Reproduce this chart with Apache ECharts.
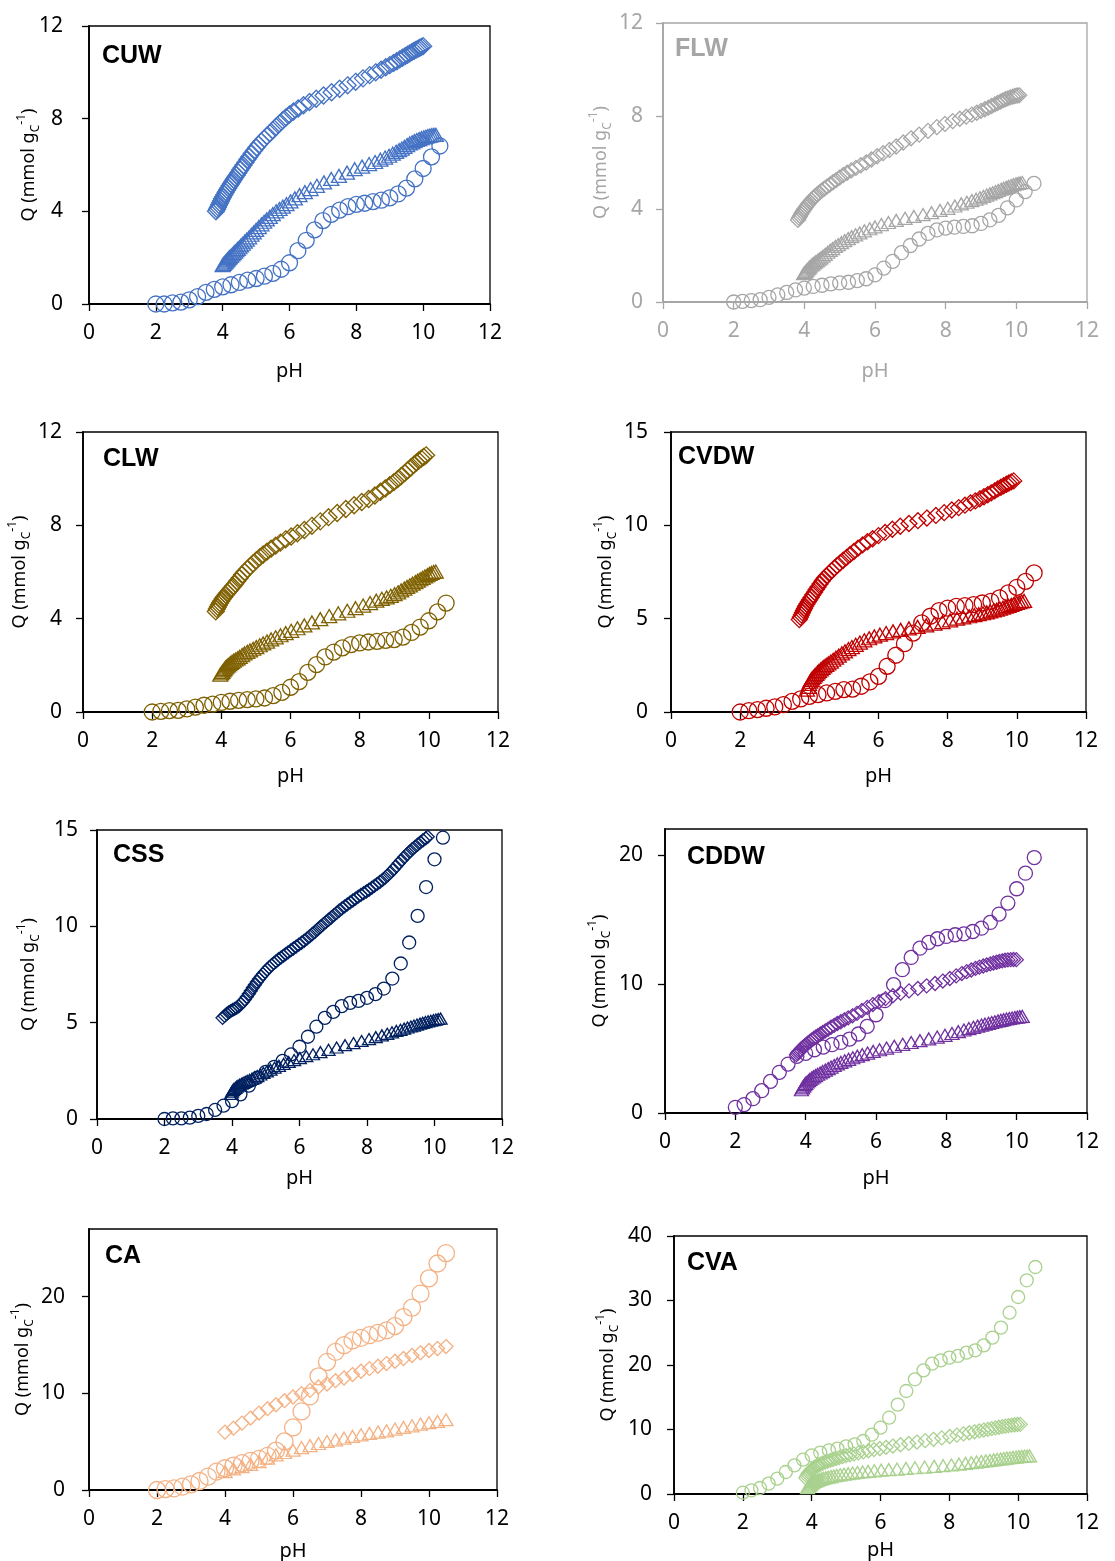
<!DOCTYPE html>
<html><head><meta charset="utf-8">
<script src="https://cdn.jsdelivr.net/npm/echarts@6/dist/echarts.min.js"></script>
<style>html,body{margin:0;padding:0;background:#fff}#c{width:1115px;height:1561px}</style>
</head><body><div id="c"></div>
<script>
// ---------- DATA ----------
const X_TICKS = [0,2,4,6,8,10,12];
const CIRC_PH = [2,2.25,2.5,2.75,3,3.25,3.5,3.75,4,4.25,4.5,4.75,5,5.25,5.5,5.75,6,6.25,6.5,6.75,7,7.25,7.5,7.75,8,8.25,8.5,8.75,9,9.25,9.5,9.75,10,10.25,10.5];

// CUW
const CUW_CIRC_Q = [0.0,0.0,0.05,0.08,0.18,0.32,0.5,0.63,0.74,0.83,0.93,1.03,1.1,1.2,1.32,1.5,1.78,2.3,2.75,3.2,3.6,3.87,4.05,4.2,4.3,4.35,4.42,4.48,4.58,4.75,5.0,5.4,5.85,6.35,6.82];
const CUW_TRI = [[4.0,1.68],[4.03,1.73],[4.06,1.78],[4.09,1.83],[4.12,1.88],[4.15,1.93],[4.18,1.98],[4.21,2.02],[4.25,2.08],[4.29,2.14],[4.33,2.2],[4.37,2.26],[4.41,2.32],[4.45,2.38],[4.5,2.45],[4.55,2.53],[4.6,2.6],[4.66,2.69],[4.72,2.78],[4.79,2.88],[4.86,2.99],[4.93,3.09],[5.0,3.2],[5.08,3.32],[5.16,3.44],[5.24,3.55],[5.32,3.65],[5.41,3.76],[5.5,3.88],[5.6,4.0],[5.7,4.1],[5.8,4.2],[5.91,4.31],[6.03,4.43],[6.16,4.56],[6.3,4.7],[6.46,4.83],[6.63,4.96],[6.82,5.1],[7.03,5.25],[7.25,5.4],[7.48,5.53],[7.72,5.67],[7.95,5.82],[8.17,5.93],[8.38,6.04],[8.56,6.13],[8.72,6.23],[8.86,6.32],[8.98,6.4],[9.09,6.49],[9.19,6.57],[9.28,6.64],[9.36,6.71],[9.44,6.78],[9.52,6.86],[9.6,6.93],[9.67,6.98],[9.74,7.03],[9.81,7.08],[9.88,7.12],[9.95,7.16],[10.02,7.19],[10.08,7.22],[10.14,7.25],[10.2,7.27],[10.26,7.29],[10.32,7.3],[10.38,7.3]];
const CUW_DIA = [[3.8,4.0],[3.83,4.09],[3.86,4.18],[3.89,4.27],[3.92,4.36],[3.95,4.45],[3.98,4.54],[4.01,4.62],[4.05,4.72],[4.09,4.82],[4.13,4.92],[4.17,5.01],[4.21,5.1],[4.25,5.19],[4.29,5.28],[4.33,5.37],[4.37,5.46],[4.42,5.56],[4.47,5.67],[4.52,5.78],[4.57,5.88],[4.62,5.99],[4.68,6.11],[4.74,6.24],[4.8,6.36],[4.87,6.5],[4.94,6.63],[5.01,6.76],[5.08,6.88],[5.16,7.01],[5.24,7.13],[5.32,7.25],[5.41,7.37],[5.5,7.5],[5.6,7.65],[5.7,7.79],[5.8,7.93],[5.9,8.06],[6.0,8.18],[6.12,8.31],[6.26,8.44],[6.42,8.58],[6.6,8.72],[6.8,8.86],[7.02,9.0],[7.26,9.14],[7.5,9.29],[7.74,9.44],[7.98,9.59],[8.2,9.74],[8.4,9.88],[8.58,10.0],[8.74,10.11],[8.88,10.22],[9.0,10.31],[9.11,10.4],[9.21,10.48],[9.3,10.56],[9.38,10.63],[9.46,10.7],[9.53,10.76],[9.6,10.82],[9.67,10.88],[9.73,10.93],[9.79,10.98],[9.85,11.02],[9.9,11.06],[9.95,11.1],[10.0,11.13]];

// FLW
const FLW_CIRC_Q = [0,0.03,0.06,0.1,0.2,0.31,0.41,0.52,0.6,0.67,0.72,0.78,0.82,0.85,0.92,1.0,1.17,1.46,1.75,2.12,2.43,2.71,2.95,3.1,3.18,3.22,3.25,3.28,3.38,3.53,3.73,4.05,4.39,4.75,5.1];
const FLW_TRI = [[3.98,1.22],[4.01,1.27],[4.04,1.32],[4.07,1.37],[4.1,1.42],[4.13,1.47],[4.16,1.52],[4.2,1.58],[4.24,1.63],[4.28,1.68],[4.32,1.73],[4.37,1.78],[4.42,1.84],[4.47,1.9],[4.53,1.97],[4.59,2.05],[4.66,2.14],[4.73,2.22],[4.8,2.3],[4.88,2.39],[4.96,2.47],[5.05,2.55],[5.14,2.64],[5.24,2.73],[5.34,2.81],[5.45,2.89],[5.57,2.97],[5.7,3.06],[5.85,3.15],[6.0,3.23],[6.18,3.33],[6.38,3.42],[6.6,3.51],[6.85,3.6],[7.1,3.68],[7.36,3.76],[7.6,3.84],[7.84,3.94],[8.06,4.03],[8.26,4.13],[8.44,4.22],[8.6,4.29],[8.74,4.36],[8.86,4.42],[8.97,4.48],[9.07,4.54],[9.16,4.6],[9.25,4.65],[9.33,4.7],[9.41,4.75],[9.49,4.8],[9.57,4.85],[9.64,4.89],[9.71,4.93],[9.78,4.97],[9.85,5.01],[9.92,5.05],[9.99,5.08],[10.05,5.1],[10.11,5.12],[10.17,5.14]];
const FLW_DIA = [[3.82,3.53],[3.85,3.62],[3.88,3.7],[3.91,3.78],[3.94,3.86],[3.97,3.93],[4.0,4.0],[4.04,4.08],[4.08,4.16],[4.12,4.24],[4.16,4.31],[4.2,4.38],[4.25,4.46],[4.3,4.54],[4.36,4.62],[4.42,4.7],[4.49,4.79],[4.56,4.87],[4.64,4.96],[4.72,5.05],[4.81,5.15],[4.9,5.24],[5.0,5.35],[5.1,5.46],[5.21,5.56],[5.33,5.66],[5.46,5.77],[5.6,5.88],[5.75,6.0],[5.9,6.13],[6.06,6.27],[6.23,6.4],[6.41,6.54],[6.6,6.69],[6.8,6.86],[7.02,7.04],[7.25,7.2],[7.5,7.36],[7.75,7.52],[7.98,7.66],[8.2,7.78],[8.4,7.88],[8.58,7.97],[8.74,8.06],[8.88,8.14],[9.0,8.22],[9.11,8.29],[9.21,8.36],[9.3,8.43],[9.39,8.5],[9.47,8.56],[9.55,8.62],[9.62,8.67],[9.69,8.72],[9.76,8.76],[9.83,8.8],[9.9,8.83],[9.96,8.86],[10.02,8.88],[10.08,8.89]];

// CLW
const CLW_CIRC_Q = [0,0.03,0.06,0.07,0.13,0.21,0.29,0.34,0.41,0.46,0.5,0.53,0.56,0.6,0.7,0.84,1.06,1.3,1.7,2.03,2.36,2.57,2.75,2.89,2.96,3.0,3.03,3.07,3.1,3.21,3.41,3.64,3.91,4.29,4.67];
const CLW_TRI = [[3.97,1.6],[4.0,1.66],[4.03,1.72],[4.06,1.78],[4.09,1.84],[4.12,1.9],[4.15,1.95],[4.19,2.0],[4.23,2.05],[4.27,2.1],[4.31,2.15],[4.36,2.2],[4.41,2.25],[4.47,2.3],[4.53,2.36],[4.6,2.44],[4.67,2.51],[4.75,2.58],[4.83,2.64],[4.92,2.71],[5.01,2.78],[5.11,2.86],[5.21,2.94],[5.32,3.02],[5.44,3.11],[5.57,3.2],[5.71,3.29],[5.86,3.38],[6.02,3.48],[6.2,3.59],[6.4,3.71],[6.62,3.84],[6.86,3.98],[7.12,4.11],[7.38,4.23],[7.64,4.34],[7.88,4.45],[8.1,4.56],[8.3,4.67],[8.48,4.77],[8.64,4.85],[8.78,4.91],[8.9,4.98],[9.01,5.05],[9.11,5.13],[9.2,5.21],[9.29,5.29],[9.37,5.36],[9.45,5.43],[9.53,5.5],[9.61,5.57],[9.68,5.63],[9.75,5.69],[9.82,5.75],[9.89,5.81],[9.96,5.87],[10.02,5.92],[10.08,5.96],[10.14,6.0],[10.2,6.02]];
const CLW_DIA = [[3.84,4.31],[3.87,4.41],[3.9,4.5],[3.93,4.59],[3.96,4.67],[4.0,4.76],[4.04,4.85],[4.08,4.93],[4.13,5.02],[4.18,5.11],[4.23,5.2],[4.28,5.29],[4.34,5.39],[4.4,5.5],[4.46,5.61],[4.53,5.74],[4.6,5.88],[4.67,6.0],[4.75,6.12],[4.83,6.24],[4.92,6.37],[5.01,6.5],[5.11,6.63],[5.21,6.75],[5.32,6.87],[5.44,7.0],[5.57,7.13],[5.71,7.26],[5.86,7.4],[6.02,7.52],[6.2,7.66],[6.4,7.8],[6.62,7.98],[6.86,8.17],[7.1,8.35],[7.35,8.53],[7.6,8.7],[7.84,8.86],[8.06,9.0],[8.26,9.13],[8.44,9.28],[8.6,9.44],[8.74,9.58],[8.87,9.72],[8.99,9.85],[9.1,9.98],[9.2,10.11],[9.3,10.24],[9.39,10.36],[9.48,10.48],[9.56,10.59],[9.64,10.69],[9.71,10.78],[9.78,10.86],[9.85,10.93],[9.92,11.0]];

// CVDW
const CVDW_CIRC_Q = [0,0.07,0.13,0.2,0.27,0.39,0.57,0.7,0.84,0.93,1.02,1.11,1.2,1.23,1.38,1.61,1.91,2.45,3.04,3.66,4.23,4.77,5.13,5.43,5.57,5.66,5.7,5.75,5.84,5.93,6.11,6.38,6.68,7.0,7.45];
const CVDW_TRI = [[3.93,1.2],[3.96,1.35],[3.99,1.5],[4.02,1.62],[4.05,1.72],[4.08,1.8],[4.12,1.88],[4.16,1.96],[4.2,2.04],[4.24,2.12],[4.28,2.2],[4.33,2.28],[4.38,2.36],[4.43,2.44],[4.49,2.52],[4.55,2.6],[4.62,2.7],[4.69,2.8],[4.77,2.91],[4.85,3.02],[4.94,3.14],[5.03,3.25],[5.13,3.37],[5.23,3.48],[5.34,3.6],[5.46,3.72],[5.59,3.84],[5.73,3.95],[5.88,4.05],[6.04,4.14],[6.22,4.23],[6.42,4.32],[6.64,4.4],[6.88,4.48],[7.13,4.56],[7.38,4.64],[7.62,4.73],[7.85,4.82],[8.07,4.91],[8.27,5.0],[8.45,5.07],[8.62,5.13],[8.77,5.19],[8.9,5.24],[9.02,5.29],[9.13,5.34],[9.23,5.39],[9.33,5.44],[9.42,5.49],[9.51,5.54],[9.6,5.59],[9.68,5.64],[9.76,5.69],[9.84,5.74],[9.92,5.79],[10.0,5.84],[10.07,5.88],[10.14,5.92],[10.21,5.95]];
const CVDW_DIA = [[3.71,4.95],[3.74,5.08],[3.77,5.2],[3.8,5.32],[3.83,5.44],[3.86,5.55],[3.89,5.66],[3.93,5.78],[3.97,5.9],[4.01,6.02],[4.05,6.14],[4.1,6.28],[4.15,6.42],[4.2,6.56],[4.25,6.7],[4.31,6.86],[4.37,7.02],[4.43,7.16],[4.5,7.3],[4.57,7.43],[4.64,7.56],[4.72,7.7],[4.8,7.84],[4.89,7.99],[4.98,8.13],[5.08,8.28],[5.18,8.44],[5.29,8.6],[5.41,8.78],[5.54,8.95],[5.68,9.12],[5.83,9.28],[6.0,9.45],[6.19,9.62],[6.4,9.79],[6.63,9.95],[6.88,10.1],[7.14,10.25],[7.4,10.39],[7.66,10.53],[7.9,10.68],[8.12,10.82],[8.32,10.95],[8.5,11.08],[8.66,11.2],[8.8,11.31],[8.93,11.42],[9.05,11.53],[9.16,11.64],[9.26,11.74],[9.36,11.85],[9.45,11.95],[9.54,12.04],[9.62,12.12],[9.7,12.2],[9.77,12.27],[9.84,12.33],[9.91,12.38]];

// CSS
const CSS_CIRC_Q = [0,0.03,0.03,0.07,0.16,0.26,0.47,0.69,0.93,1.28,1.73,2.14,2.45,2.71,3.02,3.35,3.75,4.27,4.79,5.25,5.56,5.86,6.03,6.13,6.29,6.48,6.77,7.29,8.07,9.16,10.54,12.04,13.48,14.6];
const CSS_TRI = [[3.97,1.3],[4.0,1.42],[4.03,1.5],[4.06,1.56],[4.1,1.62],[4.14,1.68],[4.18,1.73],[4.23,1.78],[4.28,1.83],[4.33,1.88],[4.39,1.93],[4.45,1.98],[4.52,2.03],[4.59,2.09],[4.67,2.16],[4.75,2.23],[4.84,2.31],[4.93,2.39],[5.03,2.47],[5.14,2.56],[5.26,2.66],[5.39,2.76],[5.53,2.86],[5.68,2.96],[5.84,3.06],[6.01,3.16],[6.2,3.26],[6.4,3.36],[6.62,3.47],[6.86,3.59],[7.1,3.71],[7.35,3.83],[7.6,3.94],[7.84,4.05],[8.06,4.15],[8.26,4.25],[8.44,4.34],[8.6,4.42],[8.74,4.5],[8.87,4.57],[8.99,4.63],[9.1,4.69],[9.2,4.75],[9.3,4.8],[9.39,4.85],[9.48,4.9],[9.57,4.95],[9.65,4.99],[9.73,5.03],[9.81,5.07],[9.89,5.1],[9.97,5.13],[10.04,5.16],[10.11,5.19],[10.18,5.21]];
const CSS_DIA = [[3.72,5.25],[3.78,5.35],[3.84,5.45],[3.9,5.53],[3.96,5.6],[4.02,5.66],[4.08,5.72],[4.14,5.78],[4.2,5.85],[4.26,5.95],[4.32,6.07],[4.38,6.2],[4.44,6.35],[4.5,6.5],[4.56,6.66],[4.62,6.82],[4.68,6.97],[4.74,7.12],[4.8,7.26],[4.86,7.39],[4.92,7.52],[4.98,7.64],[5.04,7.76],[5.1,7.87],[5.17,7.98],[5.24,8.09],[5.31,8.19],[5.38,8.29],[5.45,8.38],[5.52,8.47],[5.59,8.56],[5.66,8.65],[5.74,8.75],[5.82,8.85],[5.9,8.95],[5.98,9.05],[6.06,9.15],[6.14,9.25],[6.22,9.36],[6.3,9.48],[6.38,9.6],[6.46,9.72],[6.54,9.85],[6.62,9.98],[6.7,10.1],[6.78,10.22],[6.86,10.34],[6.94,10.46],[7.02,10.58],[7.1,10.7],[7.18,10.82],[7.26,10.93],[7.34,11.04],[7.42,11.14],[7.5,11.24],[7.58,11.34],[7.66,11.44],[7.74,11.54],[7.82,11.63],[7.9,11.72],[7.98,11.81],[8.06,11.9],[8.14,12.0],[8.22,12.1],[8.3,12.2],[8.38,12.3],[8.46,12.41],[8.54,12.53],[8.62,12.66],[8.7,12.8],[8.78,12.95],[8.86,13.11],[8.94,13.27],[9.02,13.43],[9.1,13.58],[9.18,13.73],[9.26,13.87],[9.34,14.0],[9.42,14.12],[9.5,14.24],[9.58,14.36],[9.66,14.47],[9.74,14.57],[9.8,14.65]];

// CDDW
const CDDW_CIRC_Q = [0.44,0.65,1.11,1.73,2.45,3.15,3.79,4.39,4.62,4.9,5.11,5.29,5.47,5.73,6.12,6.71,7.61,8.7,9.94,11.1,12.05,12.77,13.21,13.5,13.68,13.81,13.88,14.06,14.32,14.76,15.41,16.26,17.37,18.58,19.79];
const CDDW_TRI = [[3.88,1.8],[3.91,1.95],[3.94,2.08],[3.97,2.2],[4.0,2.3],[4.04,2.4],[4.08,2.5],[4.12,2.6],[4.17,2.7],[4.22,2.8],[4.28,2.9],[4.34,3.0],[4.41,3.1],[4.48,3.21],[4.56,3.32],[4.64,3.44],[4.72,3.56],[4.81,3.68],[4.9,3.8],[5.0,3.92],[5.11,4.04],[5.22,4.16],[5.34,4.28],[5.47,4.4],[5.61,4.52],[5.76,4.64],[5.92,4.77],[6.1,4.9],[6.3,5.03],[6.52,5.17],[6.76,5.32],[7.0,5.46],[7.25,5.6],[7.5,5.74],[7.74,5.88],[7.96,6.02],[8.16,6.16],[8.34,6.3],[8.5,6.43],[8.64,6.54],[8.77,6.64],[8.89,6.73],[9.0,6.81],[9.1,6.88],[9.2,6.95],[9.29,7.01],[9.38,7.07],[9.47,7.13],[9.55,7.18],[9.63,7.23],[9.71,7.28],[9.79,7.32],[9.87,7.36],[9.95,7.4],[10.02,7.43],[10.09,7.46],[10.16,7.48]];
const CDDW_DIA = [[3.74,4.52],[3.77,4.62],[3.8,4.72],[3.83,4.82],[3.86,4.92],[3.9,5.02],[3.94,5.12],[3.98,5.22],[4.02,5.32],[4.07,5.43],[4.12,5.54],[4.17,5.65],[4.23,5.77],[4.29,5.89],[4.35,6.0],[4.42,6.12],[4.49,6.24],[4.56,6.36],[4.64,6.5],[4.72,6.64],[4.81,6.79],[4.9,6.93],[5.0,7.07],[5.1,7.22],[5.21,7.37],[5.33,7.53],[5.46,7.72],[5.6,7.94],[5.75,8.18],[5.91,8.4],[6.08,8.62],[6.27,8.86],[6.48,9.08],[6.7,9.28],[6.94,9.46],[7.19,9.65],[7.44,9.85],[7.68,10.03],[7.9,10.22],[8.1,10.42],[8.28,10.62],[8.44,10.8],[8.58,10.95],[8.71,11.08],[8.83,11.2],[8.94,11.3],[9.05,11.39],[9.15,11.47],[9.25,11.55],[9.34,11.62],[9.43,11.68],[9.51,11.74],[9.59,11.79],[9.67,11.83],[9.75,11.86],[9.83,11.88],[9.91,11.89],[9.99,11.88]];

// CA
const CA_CIRC_Q = [0,0.1,0.17,0.35,0.59,0.93,1.38,1.9,2.25,2.53,2.77,3.01,3.22,3.53,4.08,5.02,6.47,8.13,9.69,11.76,13.25,14.29,14.98,15.47,15.74,16.02,16.26,16.51,16.96,17.89,18.86,20.31,21.9,23.43,24.5];
const CA_TRI = [[4.0,1.9],[4.25,2.18],[4.5,2.42],[4.75,2.66],[5.0,2.94],[5.25,3.29],[5.5,3.63],[5.75,3.88],[6.0,4.12],[6.25,4.39],[6.5,4.6],[6.75,4.81],[7.0,5.02],[7.25,5.19],[7.5,5.36],[7.75,5.54],[8.0,5.71],[8.25,5.85],[8.5,5.99],[8.75,6.12],[9.0,6.3],[9.25,6.47],[9.5,6.64],[9.75,6.82],[10.0,6.96],[10.25,7.09],[10.5,7.27]];
const CA_DIA = [[4.0,5.99],[4.25,6.4],[4.5,6.92],[4.75,7.44],[5.0,7.96],[5.25,8.41],[5.5,8.82],[5.75,9.24],[6.0,9.62],[6.25,9.97],[6.5,10.31],[6.75,10.66],[7.0,10.97],[7.25,11.31],[7.5,11.59],[7.75,11.94],[8.0,12.28],[8.25,12.56],[8.5,12.8],[8.75,13.08],[9.0,13.32],[9.25,13.6],[9.5,13.91],[9.75,14.19],[10.0,14.43],[10.25,14.64],[10.5,14.84]];

// CVA
const CVA_CIRC_Q = [0.2,0.57,0.93,1.6,2.38,3.41,4.44,5.32,6.0,6.41,6.77,7.03,7.39,7.7,8.22,9.2,10.28,11.83,13.85,15.97,17.78,19.17,20.21,20.72,21.14,21.4,21.91,22.27,23.05,24.24,25.79,28.11,30.54,33.13,35.19];
const CVA_TRI = [[3.88,1.0],[3.91,1.2],[3.94,1.38],[3.97,1.54],[4.0,1.68],[4.04,1.82],[4.08,1.94],[4.12,2.05],[4.17,2.15],[4.22,2.25],[4.28,2.35],[4.34,2.44],[4.41,2.53],[4.48,2.62],[4.56,2.7],[4.64,2.79],[4.73,2.88],[4.83,2.97],[4.94,3.06],[5.06,3.15],[5.19,3.24],[5.33,3.33],[5.48,3.42],[5.64,3.51],[5.82,3.6],[6.02,3.69],[6.24,3.78],[6.48,3.87],[6.74,3.97],[7.0,4.07],[7.28,4.17],[7.56,4.28],[7.82,4.39],[8.06,4.5],[8.28,4.62],[8.47,4.74],[8.64,4.85],[8.79,4.95],[8.93,5.04],[9.06,5.13],[9.18,5.21],[9.29,5.29],[9.39,5.36],[9.49,5.43],[9.58,5.5],[9.67,5.56],[9.76,5.62],[9.85,5.68],[9.94,5.73],[10.02,5.78],[10.1,5.82],[10.18,5.86],[10.26,5.89],[10.33,5.91]];
const CVA_DIA = [[3.83,2.5],[3.86,2.8],[3.89,3.05],[3.92,3.3],[3.95,3.5],[3.98,3.7],[4.02,3.88],[4.06,4.05],[4.1,4.2],[4.15,4.36],[4.2,4.5],[4.26,4.64],[4.32,4.78],[4.39,4.93],[4.46,5.07],[4.54,5.21],[4.62,5.35],[4.71,5.5],[4.8,5.65],[4.9,5.8],[5.0,5.94],[5.11,6.08],[5.23,6.22],[5.36,6.37],[5.5,6.53],[5.65,6.7],[5.81,6.88],[5.98,7.06],[6.16,7.24],[6.36,7.43],[6.58,7.63],[6.82,7.84],[7.06,8.05],[7.3,8.27],[7.54,8.48],[7.78,8.7],[8.01,8.92],[8.22,9.13],[8.41,9.32],[8.58,9.49],[8.73,9.64],[8.87,9.78],[9.0,9.91],[9.12,10.03],[9.23,10.14],[9.34,10.25],[9.44,10.35],[9.54,10.44],[9.63,10.52],[9.72,10.6],[9.81,10.67],[9.9,10.73],[9.98,10.78],[10.06,10.8]];

const NAMES = ['CUW','FLW','CLW','CVDW','CSS','CDDW','CA','CVA'];
const COLORS = ['#4472C4','#A6A6A6','#7F6000','#C00000','#002060','#7030A0','#F4B183','#A9D18E'];
const Y_MAX = [12,12,12,15,15,22,27,40];
const Y_TICKS = [[0,4,8,12],[0,4,8,12],[0,4,8,12],[0,5,10,15],[0,5,10,15],[0,10,20],[0,10,20],[0,10,20,30,40]];
const CIRCS = [CUW_CIRC_Q,FLW_CIRC_Q,CLW_CIRC_Q,CVDW_CIRC_Q,CSS_CIRC_Q,CDDW_CIRC_Q,CA_CIRC_Q,CVA_CIRC_Q];
const TRIS = [CUW_TRI,FLW_TRI,CLW_TRI,CVDW_TRI,CSS_TRI,CDDW_TRI,CA_TRI,CVA_TRI];
const DIAS = [CUW_DIA,FLW_DIA,CLW_DIA,CVDW_DIA,CSS_DIA,CDDW_DIA,CA_DIA,CVA_DIA];

// ---------- LAYOUT / STYLE ----------
const GRIDS = [
  {left:89, top:26, width:401, height:278},
  {left:663, top:23, width:424, height:279},
  {left:83, top:432, width:415, height:280},
  {left:671, top:432, width:415, height:280},
  {left:97, top:830, width:405, height:289},
  {left:665, top:829, width:422, height:284},
  {left:89, top:1229, width:408, height:261},
  {left:674, top:1236, width:413, height:258}
];
const TITLE_POS = [[102,44],[675,37],[103,447],[678,445],[113,843],[687,845],[105,1244],[687,1251]];
const YLAB_MARGIN = [26,20,21,23,19,22,24,22];
const XNAME_GAP = [57,59,54,54,49,55,51,46];
const YNAME_GAP = [47,49,50,52,55,52,53,53];
const SIZES = [ // circle, triangle, diamond
  [16,[15,13],17],[14,[14,12],15],[16,[15,13],17],[16,[15,13],16],
  [13,[13,11],13],[14,[14,12],14],[17,[14,12],14],[13,[14,12],14]
];
const NUM_FONT = "'Noto Sans','Open Sans',sans-serif";

const option = {animation:false, backgroundColor:'#fff', title:[], grid:[], xAxis:[], yAxis:[], series:[]};
for (let i=0;i<8;i++){
  const isGray = i===1;
  const tc = isGray ? '#A6A6A6' : '#000';
  const lc = isGray ? '#A6A6A6' : '#000';
  const col = COLORS[i];
  option.grid.push(Object.assign({show:true, borderColor:lc, borderWidth:1.3, backgroundColor:'rgba(0,0,0,0)', containLabel:false, outerBoundsMode:'none'}, GRIDS[i]));
  option.title.push({text:NAMES[i], left:TITLE_POS[i][0], top:TITLE_POS[i][1], padding:0,
    textStyle:{fontFamily:"'Liberation Sans',Arial,sans-serif", fontWeight:'bold', fontSize:25, color:tc}});
  option.xAxis.push({gridIndex:i, type:'value', min:0, max:12, interval:2,
    name:'pH', nameLocation:'middle', nameGap:XNAME_GAP[i], nameMoveOverlap:false,
    nameTextStyle:{fontFamily:NUM_FONT, fontSize:20, color:tc},
    axisLine:{show:true, onZero:false, lineStyle:{color:lc, width:1.8}},
    axisTick:{show:true, inside:false, length:7, lineStyle:{color:lc, width:1.3}, customValues:X_TICKS},
    axisLabel:{show:true, margin:19, fontFamily:NUM_FONT, fontSize:21, color:tc, customValues:X_TICKS},
    splitLine:{show:false}});
  option.yAxis.push({gridIndex:i, type:'value', min:0, max:Y_MAX[i], interval:Y_TICKS[i][1],
    name:'{t|Q (mmol g}{s|C}{p|-1}{t|)}', nameLocation:'middle', nameRotate:90, nameGap:YNAME_GAP[i], nameMoveOverlap:false,
    nameTextStyle:{rich:{
      t:{fontFamily:NUM_FONT, fontSize:18, color:tc, lineHeight:26},
      s:{fontFamily:NUM_FONT, fontSize:12, color:tc, verticalAlign:'bottom', lineHeight:14},
      p:{fontFamily:NUM_FONT, fontSize:12, color:tc, verticalAlign:'top', lineHeight:14}
    }},
    axisLine:{show:true, onZero:false, lineStyle:{color:lc, width:1.8}},
    axisTick:{show:true, inside:false, length:7, lineStyle:{color:lc, width:1.3}, customValues:Y_TICKS[i]},
    axisLabel:{show:true, margin:YLAB_MARGIN[i], fontFamily:NUM_FONT, fontSize:21, color:tc, customValues:Y_TICKS[i]},
    splitLine:{show:false}});
  const mk = (symbol, size, data) => ({type:'scatter', xAxisIndex:i, yAxisIndex:i, symbol, symbolSize:size, data,
    silent:true, emphasis:{disabled:true},
    itemStyle:{color:'rgba(0,0,0,0)', borderColor:col, borderWidth:1.3, opacity:1}});
  const circData = CIRCS[i].map((q,k)=>[CIRC_PH[k], q]);
  option.series.push(mk('triangle', SIZES[i][1], TRIS[i]));
  option.series.push(mk('diamond', SIZES[i][2], DIAS[i]));
  option.series.push(mk('circle', SIZES[i][0], circData));
}
const chart = echarts.init(document.getElementById('c'), null, {renderer:'canvas'});
chart.setOption(option);
</script></body></html>
